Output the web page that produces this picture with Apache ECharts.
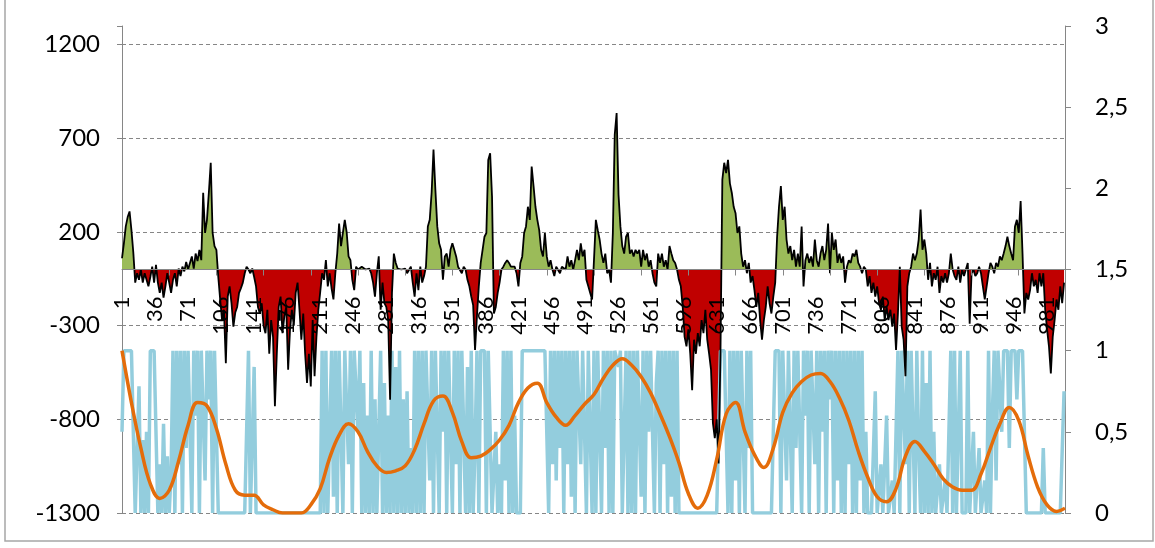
<!DOCTYPE html>
<html>
<head>
<meta charset="utf-8">
<script src="https://cdn.jsdelivr.net/npm/echarts@6/dist/echarts.min.js"></script>
<style>
  html, body { margin: 0; padding: 0; background: #ffffff; }
  #chart { width: 1155px; height: 548px; }
</style>
</head>
<body>
<div id="chart"></div>
<script>
// Number of observations on the category axis (labelled 1..N)
const N = 1000;
const categories = Array.from({ length: N }, (_, i) => String(i + 1));

// Left axis ticks (balance) and right axis ticks (state / trend)
const leftTicks = [-1300, -800, -300, 200, 700, 1200];
const rightTicks = [0, 0.5, 1, 1.5, 2, 2.5, 3];

// Balance series, one sample every 2 observations (left axis)
const balanceStep = 2;
const balance = [
  60,140,230,280,310,210,90,-70,-20,-55,
  0,-70,-20,-55,-90,-40,15,-70,25,-70,
  -125,-70,-150,-90,-20,-70,-125,-55,-20,-90,
  5,-35,15,-10,40,0,35,70,5,85,
  45,105,50,410,195,265,410,570,195,125,
  105,-40,-160,-270,-215,-500,-145,-90,-180,-305,
  -230,-200,-125,
  -100,-70,-20,15,0,-20,5,-40,-90,-200,
  -235,-180,-300,-340,-215,-450,-270,-360,-730,-450,
  -200,-145,-340,-250,-200,-535,-320,-215,-300,-125,
  -70,-215,-375,-235,-450,-605,-450,-625,-270,-570,
  -360,-215,-120,-20,-55,50,-90,-20,-100,-160,
  -20,85,245,125,195,265,200,70,50,-55,
  -110,15,0,
  10,15,5,0,10,5,-20,-70,-145,-20,
  70,-215,-70,-180,-200,-270,-695,-125,85,35,
  5,15,0,10,5,-20,-20,15,-70,-145,
  -20,-110,15,-70,-35,15,230,265,410,640,
  425,230,140,105,-55,70,85,15,105,140,
  105,70,15,15,-20,15,0,-55,-90,-145,
  -190,-430,
  -250,-90,35,105,175,195,585,620,390,-235,
  -200,-125,-70,0,15,35,50,35,15,15,
  15,-20,-90,35,70,195,230,335,265,550,
  445,335,265,210,105,70,195,70,15,50,
  0,-35,15,15,-20,15,5,0,70,15,
  50,0,50,105,50,140,70,105,-55,-90,
  -125,-160,50,
  265,210,160,85,35,85,-20,0,-70,195,
  720,835,400,230,125,85,175,195,85,105,
  70,105,85,105,15,105,50,85,15,50,
  -20,-70,-90,85,35,85,15,50,0,125,
  85,50,35,0,-55,-90,-200,-360,-410,-320,
  -450,-645,-375,-450,-340,-410,-270,-340,-215,-375,
  -450,-535,-820,
  -900,-800,-1035,-450,480,570,515,585,460,410,
  335,300,195,230,85,15,50,-20,35,-70,
  -35,-110,-200,-125,-270,-375,-270,-200,-90,-180,
  -235,-145,-70,175,335,445,265,335,160,85,
  125,50,105,15,85,15,230,-90,50,85,
  35,70,15,160,50,15,85,125,50,105,
  245,-20,
  195,105,160,35,85,35,70,-70,15,50,
  35,85,70,105,35,15,-20,15,0,-90,
  -35,-125,-70,-145,-90,-180,-215,-145,-270,-200,
  -270,-215,-305,-235,-430,-235,15,-305,-375,-570,
  -90,-20,15,85,50,85,160,320,105,160,
  85,-55,35,-90,-20,-55,15,-125,-35,-70,
  -20,-70,
  -20,85,0,-35,-55,15,-70,0,-35,0,
  35,-290,-20,0,-35,-20,15,-20,-90,-160,
  -90,-20,35,15,-20,35,15,70,50,85,
  125,175,125,85,50,230,265,195,365,85,
  -235,-125,-160,-110,-20,-90,-55,-125,-20,-90,
  -20,-215,-320,-410,-555,-360,-270,-160,-215,-90,
  -180,-70
];

// State series (0..1), one sample every 2 observations (right axis)
const stateStep = 2;
const state = [
  0.5,1,1,1,1,1,1,
  0,0,0.78,0,0.45,0,0.5,0,
  1,1,1,1,
  0,0.3,0,0.55,0,0.35,0,0.25,
  1,0,1,0.3,
  1,0,1,0.4,1,1,0,1,0.6,1,0,1,1,0.2,1,0.7,1,0,1,1,
  0,0,0,0,0,0,0,0,0,0,0,0,0,0,0,0,
  1,0,0,0.9,0,
  0,0,0,0,0,0,0,0,0,0,0,0,0,0,0,0,0,0,0,0,0,0,0,0,0,0,0,0,0,0,0,0,0,0,
  1,0,1,0,0,1,0.1,1,0,1,1,0,1,1,0.3,1,0,1,1,0.5,1,
  0,0.8,0,0.6,0,1,0,0.7,0,0.5,1,0,0.8,0,0.6,0,1,0,0.9,
  0,1,0,0.7,0,0.75,0,0.4,0,1,0,1,0,
  1,0,1,1,0.2,1,0,1,1,0,1,0.5,1,0,1,1,0,1,0.3,1,0,1,1,
  0,0.9,0,1,0,0.4,1,0,1,
  1,1,0,1,1,0,
  0,0.5,0,0.3,0,1,0.2,1,
  0,1,0,0.6,0,0,0,
  1,1,1,1,1,1,1,1,1,1,1,1,1,1,
  0,1,0.3,1,0.2,1,0.4,1,0,1,0.3,1,0.1,1,0,
  1,1,0.3,1,1,0,1,1,
  0,1,0,1,1,0,1,0.4,1,0,1,0,
  1,1,0.9,1,
  0,0,1,0,1,0,1,0,1,1,0.1,1,0,1,0.5,1,1,0,0.8,1,0,1,0.3,1,0,1,0.1,1,0,1,
  0,0,0,0,0,0,0,0,0,0,0,0,0,0,0,0,0,0,0,0,0,0,
  1,1,1,1,0,
  1,0,1,0.2,1,0,1,1,0,1,0.4,1,0,
  0,0,0,0,0,0,0,0,0,0,0,
  1,1,1,0,1,1,0.2,1,1,0,1,0.4,1,1,0,1,0.6,1,0,1,1,0.3,1,0,1,0.5,1,0,1,0.7,1,0,1,0.2,1,
  0,1,0,1,0.3,1,0,1,0,1,0.2,1,0,0.5,0,
  0,0,0,0.75,0,
  0,0.3,0,0,0.6,0,0,0.2,0,0,
  1,0,1,1,0.3,1,0,1,1,0,
  1,0.4,0,1,0,0.8,0,1,0,0.5,
  0,0,0.3,0,0,0.2,0,0,
  1,0,1,0,0,1,
  0,0,0,1,0,0,0.5,0,0,0.4,0,0,0.2,0,1,
  0,0.6,1,0.2,1,1,0.5,1,1,1,0.4,1,1,1,0.7,1,1,1,1,
  0,0,0,0,0,0,0,0,0,0.4,0,0,0,0,0,0,0,0,0,0,0.75
];

// Smoothed trend (0..1), one sample every 10 observations; last sample on the final observation
const trendStep = 10;
const trend = [
  1.00,0.68,0.40,0.18,0.09,0.14,0.32,0.54,0.68,0.66,
  0.52,0.30,0.14,0.11,0.11,0.05,0.02,0.00,0.00,0.00,
  0.05,0.15,0.34,0.48,0.55,0.50,0.38,0.29,0.25,0.26,
  0.29,0.39,0.55,0.69,0.72,0.62,0.44,0.34,0.35,0.39,
  0.45,0.54,0.68,0.77,0.80,0.68,0.59,0.54,0.60,0.67,
  0.73,0.83,0.91,0.95,0.91,0.84,0.74,0.61,0.47,0.31,
  0.12,0.03,0.11,0.33,0.61,0.68,0.50,0.36,0.28,0.40,
  0.62,0.74,0.81,0.85,0.86,0.81,0.71,0.57,0.38,0.22,
  0.10,0.07,0.15,0.35,0.44,0.38,0.30,0.21,0.16,0.14,
  0.14,0.24,0.40,0.55,0.65,0.57,0.35,0.16,0.05,0.01,
  0.03
];

const FONT = 'Lato, "Liberation Sans", sans-serif';
const AXIS_GRAY = '#868686';

const balanceData = balance.map((v, i) => [i * balanceStep, v]);
const stateData = state.map((v, i) => [i * stateStep, v]);
const trendData = trend.map((v, i) => [Math.min(i * trendStep, N - 1), v]);

const leftMin = leftTicks[0];
const leftInterval = leftTicks[1] - leftTicks[0];
const leftMax = -leftMin;

// Plot box in pixels
const PLOT = { left: 122, right: 90, top: 26, bottom: 35 };
const plotHeight = 548 - PLOT.top - PLOT.bottom;
// The category axis sits on the zero line of the left axis
const zeroOffset = plotHeight * (leftMax / (leftMax - leftMin));

const chart = echarts.init(document.getElementById('chart'), null, { renderer: 'canvas' });

chart.setOption({
  animation: false,
  backgroundColor: '#ffffff',
  graphic: [{
    type: 'rect',
    silent: true,
    z: -10,
    shape: { x: 5, y: -5, width: 1148, height: 546 },
    style: { fill: 'none', stroke: '#a6a6a6', lineWidth: 1.5 }
  }],
  grid: [
    { left: PLOT.left, right: PLOT.right, top: PLOT.top, bottom: PLOT.bottom, containLabel: false, outerBoundsMode: 'none' },
    // upper half of the plot: its bottom edge carries the category axis at value 0
    { left: PLOT.left, right: PLOT.right, top: PLOT.top, height: zeroOffset, containLabel: false, outerBoundsMode: 'none' }
  ],
  // Fill colour of the balance area: green above zero, red below
  visualMap: {
    show: false,
    type: 'piecewise',
    seriesIndex: 0,
    dimension: 1,
    pieces: [
      { gte: leftMin, lt: 0, color: '#C00000' },
      { gte: 0, lte: leftMax, color: '#9BBB59' }
    ],
    outOfRange: { color: '#9BBB59' }
  },
  xAxis: [
    {
      type: 'category',
      gridIndex: 0,
      data: categories,
      boundaryGap: false,
      axisLine: { show: false, onZero: false },
      axisTick: { show: false },
      axisLabel: { show: false },
      splitLine: { show: false }
    },
    {
      type: 'category',
      gridIndex: 1,
      position: 'bottom',
      data: categories,
      boundaryGap: false,
      axisLine: { show: true, onZero: false, lineStyle: { color: AXIS_GRAY, width: 1 } },
      axisTick: { show: true, interval: 49, length: 6, lineStyle: { color: AXIS_GRAY } },
      axisLabel: {
        interval: 34,
        rotate: 90,
        margin: 27,
        fontSize: 22,
        color: '#000000',
        fontFamily: FONT
      },
      splitLine: { show: false },
      z: 5
    }
  ],
  yAxis: [
    {
      type: 'value',
      gridIndex: 0,
      position: 'left',
      min: leftMin,
      max: leftMax,
      interval: leftInterval,
      axisLine: { show: true, lineStyle: { color: AXIS_GRAY, width: 1 } },
      axisTick: { show: true, length: 5, lineStyle: { color: AXIS_GRAY } },
      axisLabel: {
        margin: 22,
        fontSize: 24,
        color: '#000000',
        fontFamily: FONT,
        formatter: v => (leftTicks.indexOf(v) >= 0 ? String(v) : '')
      },
      splitLine: {
        show: true,
        showMaxLine: false,
        lineStyle: { color: AXIS_GRAY, type: [4, 3], width: 1 }
      }
    },
    {
      type: 'value',
      gridIndex: 0,
      position: 'right',
      min: rightTicks[0],
      max: rightTicks[rightTicks.length - 1],
      interval: rightTicks[1] - rightTicks[0],
      axisLine: { show: true, lineStyle: { color: AXIS_GRAY, width: 1 } },
      axisTick: { show: true, length: 6, lineStyle: { color: AXIS_GRAY } },
      axisLabel: {
        margin: 30,
        fontSize: 24,
        color: '#000000',
        fontFamily: FONT,
        formatter: v => String(v).replace('.', ',')
      },
      splitLine: { show: false }
    },
    {
      type: 'value',
      gridIndex: 1,
      show: false,
      min: 0,
      max: leftMax
    }
  ],
  series: [
    {
      name: 'Balance area',
      type: 'line',
      xAxisIndex: 0,
      yAxisIndex: 0,
      data: balanceData,
      showSymbol: false,
      lineStyle: { width: 0 },
      areaStyle: { opacity: 1, origin: 0 },
      z: 1,
      silent: true
    },
    {
      name: 'State',
      type: 'line',
      xAxisIndex: 0,
      yAxisIndex: 1,
      data: stateData,
      showSymbol: false,
      lineStyle: { color: '#93CDDD', width: 3.5 },
      itemStyle: { color: '#93CDDD' },
      z: 2,
      silent: true
    },
    {
      name: 'Balance',
      type: 'line',
      xAxisIndex: 0,
      yAxisIndex: 0,
      data: balanceData,
      showSymbol: false,
      lineStyle: { color: '#000000', width: 1.8 },
      itemStyle: { color: '#000000' },
      z: 3,
      silent: true
    },
    {
      name: 'Trend',
      type: 'line',
      xAxisIndex: 0,
      yAxisIndex: 1,
      data: trendData,
      smooth: 0.4,
      showSymbol: false,
      lineStyle: { color: '#E46C0A', width: 3.5 },
      itemStyle: { color: '#E46C0A' },
      z: 4,
      silent: true
    }
  ]
});
</script>
</body>
</html>
